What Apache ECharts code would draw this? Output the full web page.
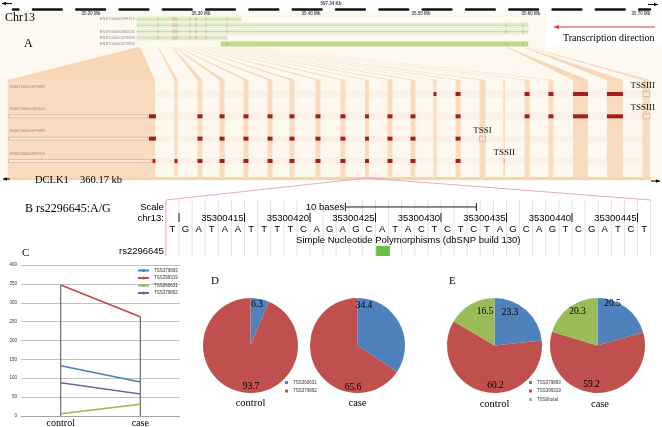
<!DOCTYPE html>
<html>
<head>
<meta charset="utf-8">
<script src="https://cdn.jsdelivr.net/npm/echarts@6.0.0/dist/echarts.min.js"></script>
<style>
html,body{margin:0;padding:0;background:#fff;}
#chart{width:662px;height:427px;}
</style>
</head>
<body>
<div id="chart"></div>
<script>
// ================= DATA =================
// Panel A — Ensembl overview (positions in Mb on chr13)
const chromosome = 'Chr13';
const regionSpanLabel = '597.34 Kb';
const rulerTicksMb = [35.2, 35.3, 35.4, 35.5, 35.6, 35.7];
const topTranscripts = ['ENST00000399319', '', 'ENST00000360631', 'ENST00000379893', 'ENST00000379892'];
const topSpansMb = [[35.2418, 35.3364], [35.2418, 35.5973], [35.2418, 35.5973], [35.2418, 35.3236], [35.3182, 35.5973]];
const topExonsMb = [
  [35.2609, 35.2745, 35.2764, 35.2782, 35.2900, 35.2955, 35.3045, 35.3236],
  [35.2609, 35.2745, 35.2764, 35.2782, 35.2900, 35.2955, 35.3045, 35.3236, 35.5773, 35.5927],
  [35.2609, 35.2745, 35.2764, 35.2782, 35.2900, 35.2955, 35.3045, 35.3236, 35.5773, 35.5927],
  [35.2609, 35.2745, 35.2764, 35.2782, 35.2900, 35.2955, 35.3045],
  [35.3236, 35.5773, 35.5927]
];
const transcriptionLabel = 'Transcription direction';
// Panel A — expanded DCLK1 gene view (kb from gene 3' end)
const geneName = 'DCLK1';
const geneLengthKb = 360.17;
const lowerTranscripts = ['ENST00000379892', 'ENST00000360631', 'ENST00000379893', 'ENST00000399319'];
const lowerUtrKb = [null, [0.3, 78.5], [0.3, 78.5], [0.3, 80.3]];
const lowerExonsKb = [
  [[238.7, 240.4], [251.1, 253.9], [289.8, 292.6], [303.2, 306.0], [317.0, 325.4], [336.0, 345.0]],
  [[79.1, 83.0], [106.3, 109.1], [118.7, 121.5], [132.1, 134.9], [145.6, 148.4], [157.9, 160.7], [172.5, 175.3], [186.5, 189.3], [200.3, 202.5], [212.9, 215.7], [225.8, 228.6], [251.1, 253.9], [289.8, 292.6], [303.2, 306.0], [317.0, 325.4], [336.0, 345.0]],
  [[79.1, 83.0], [106.3, 109.1], [118.7, 121.5], [132.1, 134.9], [145.6, 148.4], [157.9, 160.7], [172.5, 175.3], [186.5, 189.3], [200.3, 202.5], [212.9, 215.7], [225.8, 228.6], [251.1, 253.9]],
  [[81.1, 82.7], [93.4, 95.1], [106.3, 109.1], [118.7, 121.5], [132.1, 134.9], [145.6, 148.4], [157.9, 160.7], [172.5, 175.3], [186.5, 189.3], [200.3, 202.5], [212.9, 215.7], [225.8, 228.6], [251.1, 253.9]]
];
const tssNames = ['TSSIII', 'TSSIII', 'TSSI', 'TSSII'];
const tssRows = [0, 1, 2, 3];
const tssKb = [[356.3, 360.1], [356.3, 360.1], [264.5, 267.9], [278.1, 278.6]];
const lowerStripesKb = [[0, 82.5], [93.4, 95.1], [106.3, 109.1], [118.7, 121.5], [132.1, 134.9], [145.6, 148.4], [157.9, 160.7], [172.5, 175.3], [186.5, 189.3], [200.3, 202.5], [212.9, 215.7], [225.8, 228.6], [238.7, 240.4], [251.1, 253.9], [264.5, 267.9], [277.9, 278.8], [289.8, 292.6], [303.2, 306.0], [317.0, 325.4], [336.0, 345.0], [355.9, 360.17]];
const fanTopMb = [[35.2418, 35.2446], [35.2609, 35.2618], [35.2736, 35.2745], [35.2755, 35.2764], [35.2782, 35.2791], [35.2836, 35.2845], [35.2900, 35.2909], [35.2955, 35.2964], [35.2991, 35.3000], [35.3045, 35.3054], [35.3082, 35.3091], [35.3118, 35.3127], [35.3182, 35.3191], [35.3236, 35.3245], [35.3282, 35.3291], [35.3355, 35.3364], [35.3445, 35.3454], [35.3555, 35.3564], [35.5773, 35.5791], [35.5927, 35.5945], [35.5973, 35.5982]];

// Panel B — UCSC sequence around the SNP
const snpId = 'rs2296645';
const snpAllele = 'A/G';
const seqStart = 35300410;
const bases = ['T','G','A','T','A','A','T','T','T','T','C','A','G','A','G','C','A','T','A','C','T','C','T','C','T','A','G','C','A','G','T','C','G','A','T','C','T'];
const chrTicks = [35300410, 35300415, 35300420, 35300425, 35300430, 35300435, 35300440, 35300445];
const chrTickLabels = ['', '35300415', '35300420', '35300425', '35300430', '35300435', '35300440', '35300445'];
const scaleBarBases = [35300423.2, 35300433.2];
const scaleBarLabel = '10 bases';
const snpPos = 35300426;
const snpTrackLabel = 'Simple Nucleotide Polymorphisms (dbSNP build 130)';
const snpInGeneKb = 201.4;

// Panel C — line chart
const cCategories = ['control', 'case'];
const cSeriesNames = ['TSS379893', 'TSS399319', 'TSS360631', 'TSS379892'];
const tss379893 = [133, 90];
const tss399319 = [347, 263];
const tss360631 = [6, 31];
const tss379892 = [88, 58];

// Panel D — pies
const dNames = ['TSS360631', 'TSS379892'];
const dControl = [6.3, 93.7];
const dCase = [34.4, 65.6];
// Panel E — pies
const eNames = ['TSS379893', 'TSS399319', 'TSSIIItotal'];
const eControl = [23.3, 60.2, 16.5];
const eCase = [20.5, 59.2, 20.3];

// ================= STYLE =================
const serif = '"Liberation Serif", "Times New Roman", serif';
const sans = '"Liberation Sans", Arial, sans-serif';
const lineColors = ['#4a7ebb', '#be4b48', '#98b954', '#7d60a0'];
const pieColors = ['#4f81bd', '#c0504d', '#9bbb59'];
const peach = '#f9dcc0';

const chart = echarts.init(document.getElementById('chart'));

function txt(x, y, text, size, family, extra) {
  return Object.assign({ type: 'text', x: x, y: y, z: 20,
    style: Object.assign({ text: text, fontSize: size, fontFamily: family, fill: '#000', align: 'left', verticalAlign: 'middle' }, (extra || {})) });
}

const series = [];
// ---- Panel A top ----
series.push({
  type: 'custom', xAxisIndex: 0, yAxisIndex: 0, silent: true,
  data: topSpansMb.map((s, i) => [s[0], s[1], i]),
  renderItem: function (params, api) {
    const r = api.value(2);
    const p0 = api.coord([api.value(0), r]);
    const p1 = api.coord([api.value(1), r]);
    const dark = r === 4;
    return { type: 'group', children: [
      { type: 'rect', shape: { x: p0[0], y: p0[1] - 2.2, width: p1[0] - p0[0], height: 4.4 },
        style: { fill: dark ? '#c6dc96' : '#e9f2d5', stroke: dark ? '#b0cb7a' : '#d6e5b4', lineWidth: 0.5 } },
      { type: 'line', shape: { x1: p0[0], y1: p0[1], x2: p1[0], y2: p1[1] }, style: { stroke: '#b3cd7e', lineWidth: 0.6 } }
    ] };
  }
});
series.push({
  type: 'custom', xAxisIndex: 0, yAxisIndex: 0, silent: true,
  data: topExonsMb.flatMap((row, r) => row.map(v => [v, r])),
  renderItem: function (params, api) {
    const p = api.coord([api.value(0), api.value(1)]);
    return { type: 'rect', shape: { x: p[0] - 0.4, y: p[1] - 2, width: 0.8, height: 4 }, style: { fill: '#c9ad86' } };
  }
});
series.push({
  type: 'custom', xAxisIndex: 0, yAxisIndex: 0, silent: true,
  data: topTranscripts.map((t, i) => [Math.min(...topSpansMb.map(s => s[0])), i]),
  renderItem: function (params, api) {
    const p = api.coord([api.value(0), api.value(1)]);
    return { type: 'text', x: p[0] - 2, y: p[1], style: { text: topTranscripts[params.dataIndex], fontSize: 4, fontFamily: sans, fill: '#8a8a8a', align: 'right', verticalAlign: 'middle' } };
  }
});
// ---- Panel A lower ----
series.push({
  type: 'custom', xAxisIndex: 1, yAxisIndex: 1, silent: true,
  data: lowerTranscripts.map((t, i) => [0, i]),
  renderItem: function (params, api) {
    const cs = params.coordSys;
    const p = api.coord([0, api.value(1)]);
    return { type: 'rect', shape: { x: cs.x, y: p[1] - 3.5, width: cs.width, height: 7 }, style: { fill: '#fcf1e5' } };
  }
});
series.push({
  type: 'custom', xAxisIndex: 1, yAxisIndex: 1, silent: true,
  data: lowerStripesKb.map(s => [s[0], s[1]]),
  renderItem: function (params, api) {
    const cs = params.coordSys;
    const a = api.coord([api.value(0), 0])[0];
    const b = api.coord([api.value(1), 0])[0];
    return { type: 'rect', shape: { x: a, y: cs.y, width: Math.max(b - a, 1), height: cs.height }, style: { fill: peach } };
  }
});
series.push({
  type: 'custom', xAxisIndex: 1, yAxisIndex: 1, silent: true,
  data: lowerUtrKb.map((u, r) => u ? [u[0], u[1], r] : null).filter(d => d),
  renderItem: function (params, api) {
    const p0 = api.coord([api.value(0), api.value(2)]);
    const p1 = api.coord([api.value(1), api.value(2)]);
    return { type: 'rect', shape: { x: p0[0], y: p0[1] - 1.5, width: p1[0] - p0[0], height: 3 }, style: { fill: '#fbe8da', stroke: '#dd9f88', lineWidth: 0.6 } };
  }
});
series.push({
  type: 'custom', xAxisIndex: 1, yAxisIndex: 1, silent: true,
  data: lowerExonsKb.flatMap((row, r) => row.map(e => [e[0], e[1], r])),
  renderItem: function (params, api) {
    const p0 = api.coord([api.value(0), api.value(2)]);
    const p1 = api.coord([api.value(1), api.value(2)]);
    return { type: 'rect', shape: { x: p0[0], y: p0[1] - 2, width: p1[0] - p0[0], height: 4 }, style: { fill: '#a11f1c' } };
  }
});
series.push({
  type: 'custom', xAxisIndex: 1, yAxisIndex: 1, silent: true,
  data: tssKb.map((k, i) => [k[0], k[1], tssRows[i]]),
  renderItem: function (params, api) {
    const cs = params.coordSys;
    const p0 = api.coord([api.value(0), api.value(2)]);
    const p1 = api.coord([api.value(1), api.value(2)]);
    const w = p1[0] - p0[0];
    const cx = (p0[0] + p1[0]) / 2;
    const nearEdge = cx > cs.x + cs.width - 20;
    const mark = w < 1.5
      ? { type: 'line', shape: { x1: cx, y1: p0[1] - 2, x2: cx, y2: p0[1] + 2 }, style: { stroke: '#dc9a80', lineWidth: 1 } }
      : { type: 'rect', shape: { x: p0[0], y: p0[1] - 2.5, width: w, height: 5 }, style: { fill: '#fce4d2', stroke: '#dc9a80', lineWidth: 0.6 } };
    return { type: 'group', children: [mark,
      { type: 'text', x: nearEdge ? cs.x + cs.width + 5 : cx, y: p0[1] - 4,
        style: { text: tssNames[params.dataIndex], fontSize: 9, fontFamily: serif, fill: '#111', align: nearEdge ? 'right' : 'center', verticalAlign: 'bottom' } }
    ] };
  }
});
series.push({
  type: 'custom', xAxisIndex: 1, yAxisIndex: 1, silent: true,
  data: lowerTranscripts.map((t, i) => [0, i]),
  renderItem: function (params, api) {
    const p = api.coord([api.value(0), api.value(1)]);
    return { type: 'text', x: p[0] + 2, y: p[1] - 7.5, style: { text: lowerTranscripts[params.dataIndex], fontSize: 4, fontFamily: sans, fill: '#8a8a8a', align: 'left', verticalAlign: 'middle' } };
  }
});
// ---- Panel B ----
series.push({
  type: 'custom', xAxisIndex: 2, yAxisIndex: 2, silent: true,
  data: bases.map((b, i) => [seqStart + i]),
  renderItem: function (params, api) {
    const cs = params.coordSys;
    const x = api.coord([api.value(0) + 0.5, 0])[0];
    return { type: 'line', shape: { x1: x, y1: cs.y, x2: x, y2: cs.y + cs.height }, style: { stroke: '#d9d9e6', lineWidth: 0.8 } };
  }
});
series.push({
  type: 'custom', xAxisIndex: 2, yAxisIndex: 2, silent: true,
  data: bases.map((b, i) => [seqStart + i, 2]),
  renderItem: function (params, api) {
    const p = api.coord([api.value(0), api.value(1)]);
    return { type: 'text', x: p[0], y: p[1], style: { text: bases[params.dataIndex], fontSize: 9.5, fontFamily: sans, fill: '#000', align: 'center', verticalAlign: 'middle' } };
  }
});
series.push({
  type: 'custom', xAxisIndex: 2, yAxisIndex: 2, silent: true,
  data: chrTicks.map(p => [p, 1]),
  renderItem: function (params, api) {
    const p = api.coord([api.value(0) + 0.5, api.value(1)]);
    return { type: 'group', children: [
      { type: 'line', shape: { x1: p[0], y1: p[1] - 5, x2: p[0], y2: p[1] + 4 }, style: { stroke: '#000', lineWidth: 0.9 } },
      { type: 'text', x: p[0] - 1, y: p[1], style: { text: chrTickLabels[params.dataIndex], fontSize: 9.5, fontFamily: sans, fill: '#000', align: 'right', verticalAlign: 'middle' } }
    ] };
  }
});
series.push({
  type: 'custom', xAxisIndex: 2, yAxisIndex: 2, silent: true,
  data: [[scaleBarBases[0], scaleBarBases[1], 0]],
  renderItem: function (params, api) {
    const a = api.coord([api.value(0), api.value(2)]);
    const b = api.coord([api.value(1), api.value(2)]);
    return { type: 'group', children: [
      { type: 'line', shape: { x1: a[0], y1: a[1], x2: b[0], y2: b[1] }, style: { stroke: '#000', lineWidth: 0.9 } },
      { type: 'line', shape: { x1: a[0], y1: a[1] - 4, x2: a[0], y2: a[1] + 4 }, style: { stroke: '#000', lineWidth: 0.9 } },
      { type: 'line', shape: { x1: b[0], y1: b[1] - 4, x2: b[0], y2: b[1] + 4 }, style: { stroke: '#000', lineWidth: 0.9 } },
      { type: 'text', x: a[0] - 1, y: a[1], style: { text: scaleBarLabel, fontSize: 9.5, fontFamily: sans, fill: '#000', align: 'right', verticalAlign: 'middle' } }
    ] };
  }
});
series.push({
  type: 'custom', xAxisIndex: 2, yAxisIndex: 2, silent: true,
  data: [[snpPos, 4]],
  renderItem: function (params, api) {
    const a = api.coord([api.value(0) - 0.45, api.value(1)]);
    const b = api.coord([api.value(0) + 0.6, api.value(1)]);
    return { type: 'rect', shape: { x: a[0], y: a[1] - 5, width: b[0] - a[0], height: 10 }, style: { fill: '#6cbf45' } };
  }
});
const bRowLabels = ['Scale', 'chr13:', snpId];
const bRowIndex = [0, 1, 4];
series.push({
  type: 'custom', xAxisIndex: 2, yAxisIndex: 2, silent: true,
  data: bRowIndex.map(r => [seqStart, r]),
  renderItem: function (params, api) {
    const cs = params.coordSys;
    const y = api.coord([api.value(0), api.value(1)])[1];
    return { type: 'text', x: cs.x - 2, y: y, style: { text: bRowLabels[params.dataIndex], fontSize: 9.5, fontFamily: sans, fill: '#000', align: 'right', verticalAlign: 'middle' } };
  }
});
series.push({
  type: 'custom', xAxisIndex: 2, yAxisIndex: 2, silent: true,
  data: [[seqStart, 3]],
  renderItem: function (params, api) {
    const cs = params.coordSys;
    const y = api.coord([api.value(0), api.value(1)])[1];
    return { type: 'text', x: cs.x + cs.width / 2, y: y, style: { text: snpTrackLabel, fontSize: 9.5, fontFamily: sans, fill: '#000', align: 'center', verticalAlign: 'middle' } };
  }
});
// ---- Panel C ----
const cValues = [tss379893, tss399319, tss360631, tss379892];
series.push({
  type: 'custom', xAxisIndex: 3, yAxisIndex: 3, silent: true, z: 1,
  data: cCategories.map((c, i) => [i, Math.max(...cValues.map(v => v[i]))]),
  renderItem: function (params, api) {
    const a = api.coord([api.value(0), 0]);
    const b = api.coord([api.value(0), api.value(1)]);
    return { type: 'line', shape: { x1: a[0], y1: a[1], x2: b[0], y2: b[1] }, style: { stroke: '#3a3a3a', lineWidth: 0.9 } };
  }
});
cSeriesNames.forEach((n, i) => {
  series.push({ type: 'line', name: n, xAxisIndex: 3, yAxisIndex: 3, data: cValues[i], symbol: 'none', silent: true, z: 3,
    lineStyle: { color: lineColors[i], width: 1.5 }, itemStyle: { color: lineColors[i] } });
});
// ---- Panels D & E ----
function pieSeries(names, values, center, offsets) {
  return {
    type: 'pie', center: center, radius: 47.5, startAngle: 90, clockwise: true, silent: true, avoidLabelOverlap: false,
    data: names.map((n, i) => ({ name: n, value: values[i], itemStyle: { color: pieColors[i] } })),
    label: { show: true, position: 'inside', formatter: p => p.value.toFixed(1), fontFamily: serif, fontSize: 9.5, color: '#000' },
    labelLine: { show: false },
    labelLayout: p => ({ x: center[0] + offsets[p.dataIndex][0], y: center[1] + offsets[p.dataIndex][1], align: 'center', verticalAlign: 'middle' })
  };
}
series.push(pieSeries(dNames, dControl, [250.5, 345.5], [[6.5, -41.5], [0.5, 40.5]]));
series.push(pieSeries(dNames, dCase, [357.5, 345.5], [[6.5, -40.5], [-4.5, 41.5]]));
series.push(pieSeries(eNames, eControl, [494.5, 345.5], [[15.5, -33], [1, 40], [-9.5, -34]]));
series.push(pieSeries(eNames, eCase, [597.5, 345.5], [[15, -42], [-6, 39], [-20, -34]]));

const noAxis = { show: false };
const option = {
  animation: false,
  backgroundColor: '#ffffff',
  grid: [
    { left: 13, width: 637, top: 9, height: 38.125, containLabel: false, outerBoundsMode: 'none' },
    { left: 8, width: 642, top: 80, height: 98, containLabel: false, outerBoundsMode: 'none' },
    { left: 165.9, width: 484.7, top: 200, height: 56, containLabel: false, outerBoundsMode: 'none' },
    { left: 21, width: 159, top: 265, height: 151, containLabel: false, outerBoundsMode: 'none' }
  ],
  xAxis: [
    { type: 'value', gridIndex: 0, min: 35.1291, max: 35.7082, position: 'top',
      axisLine: { show: true, onZero: false, lineStyle: { color: '#111', width: 2.6, type: [28.7, 14.6], dashOffset: 23.3 } },
      axisTick: { show: false }, splitLine: { show: false },
      axisLabel: { show: true, inside: true, margin: 2, customValues: rulerTicksMb, formatter: v => v.toFixed(2) + ' Mb', fontSize: 4.5, fontWeight: 'bold', color: '#555', fontFamily: sans } },
    { type: 'value', gridIndex: 1, min: 0, max: geneLengthKb,
      axisLine: { show: true, onZero: false, lineStyle: { color: '#f6d3b2', width: 3 } },
      axisTick: { show: false }, axisLabel: { show: false }, splitLine: { show: false } },
    Object.assign({ type: 'value', gridIndex: 2, min: seqStart - 0.5, max: seqStart + bases.length - 0.5 }, noAxis),
    { type: 'category', gridIndex: 3, data: cCategories, boundaryGap: true,
      axisLine: { show: true, lineStyle: { color: '#9a9a9a', width: 0.8 } }, axisTick: { show: false },
      axisLabel: { fontFamily: serif, fontSize: 10, color: '#000', margin: 2 } }
  ],
  yAxis: [
    Object.assign({ type: 'value', gridIndex: 0, min: -1.6, max: 4.5, inverse: true }, noAxis),
    Object.assign({ type: 'value', gridIndex: 1, min: -0.627, max: 3.762, inverse: true }, noAxis),
    Object.assign({ type: 'value', gridIndex: 2, min: -0.636, max: 4.455, inverse: true }, noAxis),
    { type: 'value', gridIndex: 3, min: 0, max: 400, interval: 50,
      axisLine: { show: false }, axisTick: { show: false },
      axisLabel: { fontSize: 4.5, color: '#333', margin: 4, fontFamily: sans },
      splitLine: { lineStyle: { color: '#b3b3b3', width: 0.8 } } }
  ],
  legend: [
    { data: cSeriesNames, orient: 'vertical', left: 137, top: 268, itemWidth: 11, itemHeight: 4, itemGap: 2.5, padding: 0,
      selectedMode: false, textStyle: { fontSize: 4.5, color: '#333', fontFamily: sans } },
    { data: dNames.map((n, i) => ({ name: n, icon: 'rect', itemStyle: { color: pieColors[i] } })), orient: 'vertical', left: 285, top: 380,
      itemWidth: 3, itemHeight: 3, itemGap: 3.5, padding: 0, selectedMode: false, textStyle: { fontSize: 4.5, color: '#333', fontFamily: sans } },
    { data: eNames.map((n, i) => ({ name: n, icon: 'rect', itemStyle: { color: pieColors[i] } })), orient: 'vertical', left: 529, top: 380,
      itemWidth: 3, itemHeight: 3, itemGap: 3.5, padding: 0, selectedMode: false, textStyle: { fontSize: 4.5, color: '#333', fontFamily: sans } }
  ],
  series: series
};
chart.setOption(option);

// ---- decorations that link panels (computed through the axes) ----
const g = [];
g.push({ type: 'rect', z: 0, shape: { x: 0, y: 11, width: 662, height: 170 }, style: { fill: '#fdf9f1' } });
g.push({ type: 'rect', z: 0, shape: { x: 545, y: 12, width: 117, height: 35 }, style: { fill: '#ffffff' } });
// fans from overview exons to the expanded view
const topY = chart.convertToPixel({ gridIndex: 0 }, [35.3, 4.5])[1];
const lowTop = chart.convertToPixel({ gridIndex: 1 }, [0, -0.627])[1];
fanTopMb.forEach((t, i) => {
  const a = chart.convertToPixel({ gridIndex: 0 }, [t[0], 4.5])[0];
  const b = chart.convertToPixel({ gridIndex: 0 }, [t[1], 4.5])[0];
  const c = chart.convertToPixel({ gridIndex: 1 }, [lowerStripesKb[i][1], 0])[0];
  const d = chart.convertToPixel({ gridIndex: 1 }, [lowerStripesKb[i][0], 0])[0];
  g.push({ type: 'polygon', z: 1, shape: { points: [[a, topY], [b, topY], [c, lowTop], [d, lowTop]] }, style: { fill: '#f8d7b6' } });
});
// pink zoom lines from the SNP position to panel B
const peak = chart.convertToPixel({ gridIndex: 1 }, [snpInGeneKb, 3.762]);
const bTL = chart.convertToPixel({ gridIndex: 2 }, [seqStart - 0.5, -0.636]);
const bTR = chart.convertToPixel({ gridIndex: 2 }, [seqStart + bases.length - 0.5, -0.636]);
const bBL = chart.convertToPixel({ gridIndex: 2 }, [seqStart - 0.5, 4.455]);
g.push({ type: 'polyline', z: 5, shape: { points: [bTR, peak, bTL, bBL] }, style: { stroke: '#e9a2ac', lineWidth: 0.9, fill: null } });
// span arrows
function arrow(x1, x2, y, dir) {
  const tip = dir < 0 ? x1 : x2;
  return [
    { type: 'line', z: 6, shape: { x1: x1, y1: y, x2: x2, y2: y }, style: { stroke: '#000', lineWidth: 1 } },
    { type: 'polygon', z: 6, shape: { points: [[tip, y], [tip - dir * 4, y - 1.8], [tip - dir * 4, y + 1.8]] }, style: { fill: '#000' } }
  ];
}
g.push(...arrow(2, 12, 3.5, -1), ...arrow(648, 658, 4.5, 1));
g.push(...arrow(3, 10, 179, -1), ...arrow(651, 660, 181, 1));
// red transcription arrow
g.push({ type: 'line', z: 6, shape: { x1: 556, y1: 27, x2: 655, y2: 27 }, style: { stroke: '#d23b3b', lineWidth: 1 } });
g.push({ type: 'polygon', z: 6, shape: { points: [[553, 27], [559, 25], [559, 29]] }, style: { fill: '#d23b3b' } });
// texts
g.push(txt(331, 3.5, regionSpanLabel, 4.5, sans, { align: 'center', fontWeight: 'bold', fill: '#444' }));
g.push(txt(5, 18, chromosome, 12, serif));
g.push(txt(24, 43.5, 'A', 12, serif));
g.push(txt(563, 38.5, transcriptionLabel, 10, serif));
g.push(txt(35, 180, geneName, 10.5, serif));
g.push(txt(80, 180, geneLengthKb + ' kb', 10.5, serif));
g.push(txt(25, 208.5, 'B ' + snpId + ':' + snpAllele, 12, serif));
g.push(txt(22, 253, 'C', 11, serif));
g.push(txt(211, 281, 'D', 11, serif));
g.push(txt(449, 281, 'E', 11, serif));
g.push(txt(250.5, 403, cCategories[0], 10.5, serif, { align: 'center' }));
g.push(txt(357.5, 403, cCategories[1], 10.5, serif, { align: 'center' }));
g.push(txt(494.5, 404, cCategories[0], 10.5, serif, { align: 'center' }));
g.push(txt(600, 404, cCategories[1], 10.5, serif, { align: 'center' }));
chart.setOption({ graphic: g });
</script>
</body>
</html>
